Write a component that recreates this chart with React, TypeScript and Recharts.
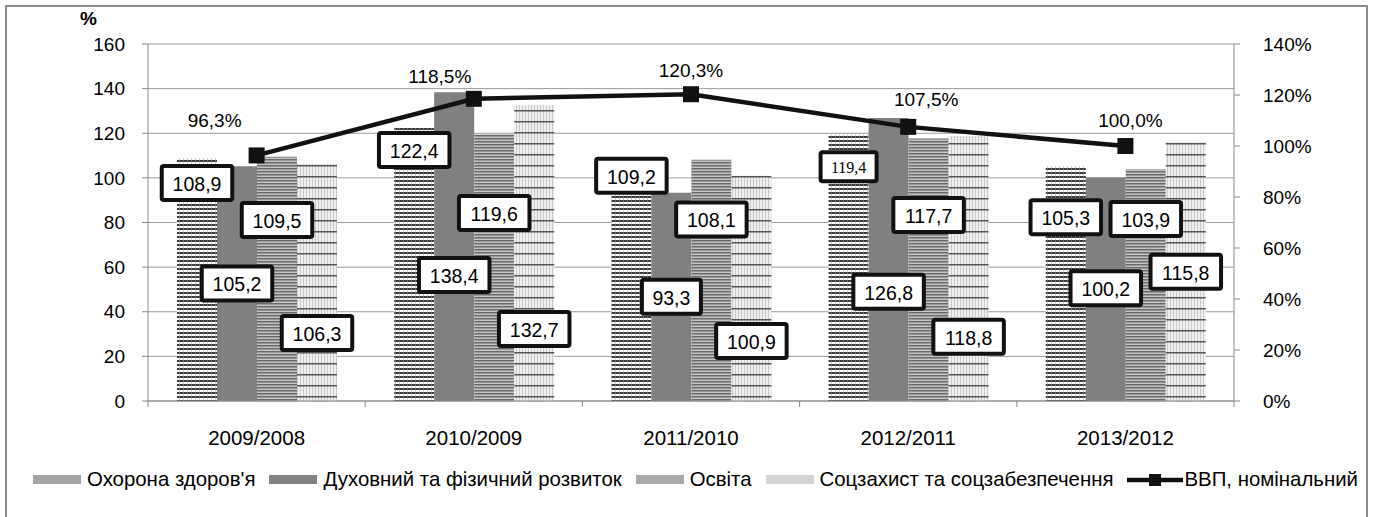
import React from "react";
import { Bar, CartesianGrid, ComposedChart, LabelList, Line, XAxis, YAxis } from "recharts";

const categories = ["2009/2008", "2010/2009", "2011/2010", "2012/2011", "2013/2012"];
const health = [108.9, 122.4, 109.2, 119.4, 105.3];
const culture = [105.2, 138.4, 93.3, 126.8, 100.2];
const education = [109.5, 119.6, 108.1, 117.7, 103.9];
const social = [106.3, 132.7, 100.9, 118.8, 115.8];
const gdp = [96.3, 118.5, 120.3, 107.5, 100.0];
const leftTicks = [0, 20, 40, 60, 80, 100, 120, 140, 160];
const rightTicks = [0, 20, 40, 60, 80, 100, 120, 140];

const seriesNames = [
  "Охорона здоров'я",
  "Духовний та фізичний розвиток",
  "Освіта",
  "Соцзахист та соцзабезпечення",
];
const lineName = "ВВП, номінальний";

const data = categories.map((c, i) => ({
  name: c,
  health: health[i],
  culture: culture[i],
  education: education[i],
  social: social[i],
  gdp: gdp[i],
}));

const FONT = '"Liberation Sans", Arial, sans-serif';
const W = 1376;
const H = 517;
const PLOT_LEFT = 148;
const PLOT_RIGHT = 1234;
const PLOT_BOTTOM = 401;
const BAND = (PLOT_RIGHT - PLOT_LEFT) / categories.length;

const fills = ["url(#pHealth)", "#808080", "url(#pEdu)", "url(#pSocial)"];
const legendFills = ["#a4a4a4", "#828282", "#ababab", "#d4d4d4"];

const comma = (v: number) => v.toFixed(1).replace(".", ",");

// label placement, hand-moved in the source: the axis level where each box sits
const labelLevels = [
  [97.7, 112.5, 101.0, 105.0, 82.3],
  [52.7, 56.5, 46.7, 49.0, 50.5],
  [81.1, 84.3, 81.4, 83.4, 81.6],
  [30.5, 32.3, 26.9, 28.8, 57.9],
];
// offsets of the percentage labels from their markers
const lineLabelDx = [-42, -34, 0, 18, 5];
const lineLabelDy = [-35, -22, -24, -27, -26];

function boxLabel(series: number) {
  return (props: any) => {
    const { x, y, width, height, value, index } = props;
    const cx = x + width / 2;
    const lvl = labelLevels[series][index];
    const cy = y + height - (lvl * height) / value;
    const text = comma(value);
    // one label in the source was typed in a different font
    const serif = series === 0 && index === 3;
    const bw = serif ? 56 : text.length * 11.5 + 13;
    const bh = serif ? 29 : 34;
    return (
      <g>
        <rect
          x={cx - bw / 2}
          y={cy - bh / 2}
          width={bw}
          height={bh}
          rx={2}
          fill="#fff"
          stroke="#111"
          strokeWidth={4}
        />
        <text
          x={cx}
          y={cy + 1}
          textAnchor="middle"
          dominantBaseline="central"
          fontSize={serif ? 16 : 19.5}
          fontFamily={serif ? '"Liberation Serif", "Times New Roman", serif' : FONT}
          fill="#000"
        >
          {text}
        </text>
      </g>
    );
  };
}

const lineLabel = (props: any) => {
  const { x, y, value, index } = props;
  return (
    <text
      x={x + lineLabelDx[index]}
      y={y + lineLabelDy[index]}
      textAnchor="middle"
      dominantBaseline="central"
      fontSize={19}
      fontFamily={FONT}
      fill="#000"
    >
      {comma(value)}%
    </text>
  );
};

const squareDot = (props: any) => {
  const { cx, cy, index } = props;
  return <rect key={index} x={cx - 8} y={cy - 8} width={16} height={16} fill="#111" />;
};

const xTick = (props: any) => {
  const { x, payload, index } = props;
  const left = x - BAND / 2;
  return (
    <g>
      <line x1={left} y1={PLOT_BOTTOM} x2={left} y2={PLOT_BOTTOM + 6} stroke="#888" />
      {index === categories.length - 1 && (
        <line x1={x + BAND / 2} y1={PLOT_BOTTOM} x2={x + BAND / 2} y2={PLOT_BOTTOM + 6} stroke="#888" />
      )}
      <text
        x={x}
        y={PLOT_BOTTOM + 36}
        textAnchor="middle"
        dominantBaseline="central"
        fontSize={20.5}
        fontFamily={FONT}
        fill="#000"
      >
        {payload.value}
      </text>
    </g>
  );
};

function Legend() {
  return (
    <div
      style={{
        position: "absolute",
        left: 33,
        top: 468,
        display: "flex",
        alignItems: "center",
        fontFamily: FONT,
        fontSize: 20.4,
        whiteSpace: "nowrap",
      }}
    >
      {seriesNames.map((n, i) => (
        <div key={n} style={{ display: "flex", alignItems: "center", marginRight: 14 }}>
          <div style={{ width: 48, height: 9, background: legendFills[i], marginRight: 6 }} />
          <span>{n}</span>
        </div>
      ))}
      <div style={{ display: "flex", alignItems: "center" }}>
        <svg width={56} height={14} style={{ marginRight: 1 }}>
          <line x1={0} y1={7} x2={56} y2={7} stroke="#111" strokeWidth={4.5} />
          <rect x={22} y={1} width={12} height={12} fill="#111" />
        </svg>
        <span>{lineName}</span>
      </div>
    </div>
  );
}

export default function App() {
  return (
    <div style={{ position: "absolute", left: 0, top: 0, width: W, height: H, overflow: "hidden", background: "#fff" }}>
      <div
        style={{
          position: "absolute",
          left: 5,
          top: 5,
          width: 1359,
          height: H,
          border: "2px solid #8c8c8c",
        }}
      />
      <div
        style={{
          position: "absolute",
          left: 80,
          top: 8,
          fontFamily: FONT,
          fontSize: 19,
          fontWeight: "bold",
        }}
      >
        %
      </div>
      <div style={{ position: "absolute", left: 0, top: 0 }}>
        <ComposedChart
          width={W}
          height={H}
          data={data}
          margin={{ top: 44, right: 52, bottom: 80, left: 88 }}
          barCategoryGap={29}
          barGap={0}
        >
          <defs>
            <pattern id="pHealth" width={4} height={4} patternUnits="userSpaceOnUse">
              <rect width={4} height={4} fill="#fff" />
              <rect width={4} height={2} fill="#3c3c3c" />
              <rect x={3} width={1} height={4} fill="#9a9a9a" opacity={0.5} />
            </pattern>
            <pattern id="pEdu" width={4} height={3} patternUnits="userSpaceOnUse">
              <rect width={4} height={3} fill="#c4c4c4" />
              <rect width={4} height={1.5} fill="#6a6a6a" />
            </pattern>
            <pattern id="pSocial" width={3} height={11} patternUnits="userSpaceOnUse">
              <rect width={3} height={11} fill="#f0f0f0" />
              <rect width={1} height={11} fill="#c8c8c8" />
              <rect width={3} height={1.5} fill="#555" />
            </pattern>
          </defs>
          <CartesianGrid vertical={false} stroke="#9a9a9a" yAxisId="left" />
          <XAxis
            dataKey="name"
            stroke="#888"
            tickLine={false}
            tick={xTick}
            height={36}
            interval={0}
          />
          <YAxis
            yAxisId="left"
            domain={[0, 160]}
            ticks={leftTicks}
            width={60}
            stroke="#888"
            tickSize={6}
            tickMargin={17}
            tick={{ fontSize: 19, fontFamily: FONT, fill: "#000" }}
            interval={0}
          />
          <YAxis
            yAxisId="right"
            orientation="right"
            domain={[0, 140]}
            ticks={rightTicks}
            width={90}
            stroke="#888"
            tickSize={6}
            tickMargin={23}
            tickFormatter={(v: number) => `${v}%`}
            tick={{ fontSize: 19, fontFamily: FONT, fill: "#000", textAnchor: "start" }}
            interval={0}
          />
          <Bar yAxisId="left" dataKey="health" fill={fills[0]} isAnimationActive={false}>
            <LabelList dataKey="health" content={boxLabel(0)} />
          </Bar>
          <Bar yAxisId="left" dataKey="culture" fill={fills[1]} isAnimationActive={false}>
            <LabelList dataKey="culture" content={boxLabel(1)} />
          </Bar>
          <Bar yAxisId="left" dataKey="education" fill={fills[2]} isAnimationActive={false}>
            <LabelList dataKey="education" content={boxLabel(2)} />
          </Bar>
          <Bar yAxisId="left" dataKey="social" fill={fills[3]} isAnimationActive={false}>
            <LabelList dataKey="social" content={boxLabel(3)} />
          </Bar>
          <Line
            yAxisId="right"
            dataKey="gdp"
            stroke="#111"
            strokeWidth={4.5}
            dot={squareDot}
            activeDot={false}
            isAnimationActive={false}
          >
            <LabelList dataKey="gdp" content={lineLabel} />
          </Line>
        </ComposedChart>
      </div>
      <Legend />
    </div>
  );
}
